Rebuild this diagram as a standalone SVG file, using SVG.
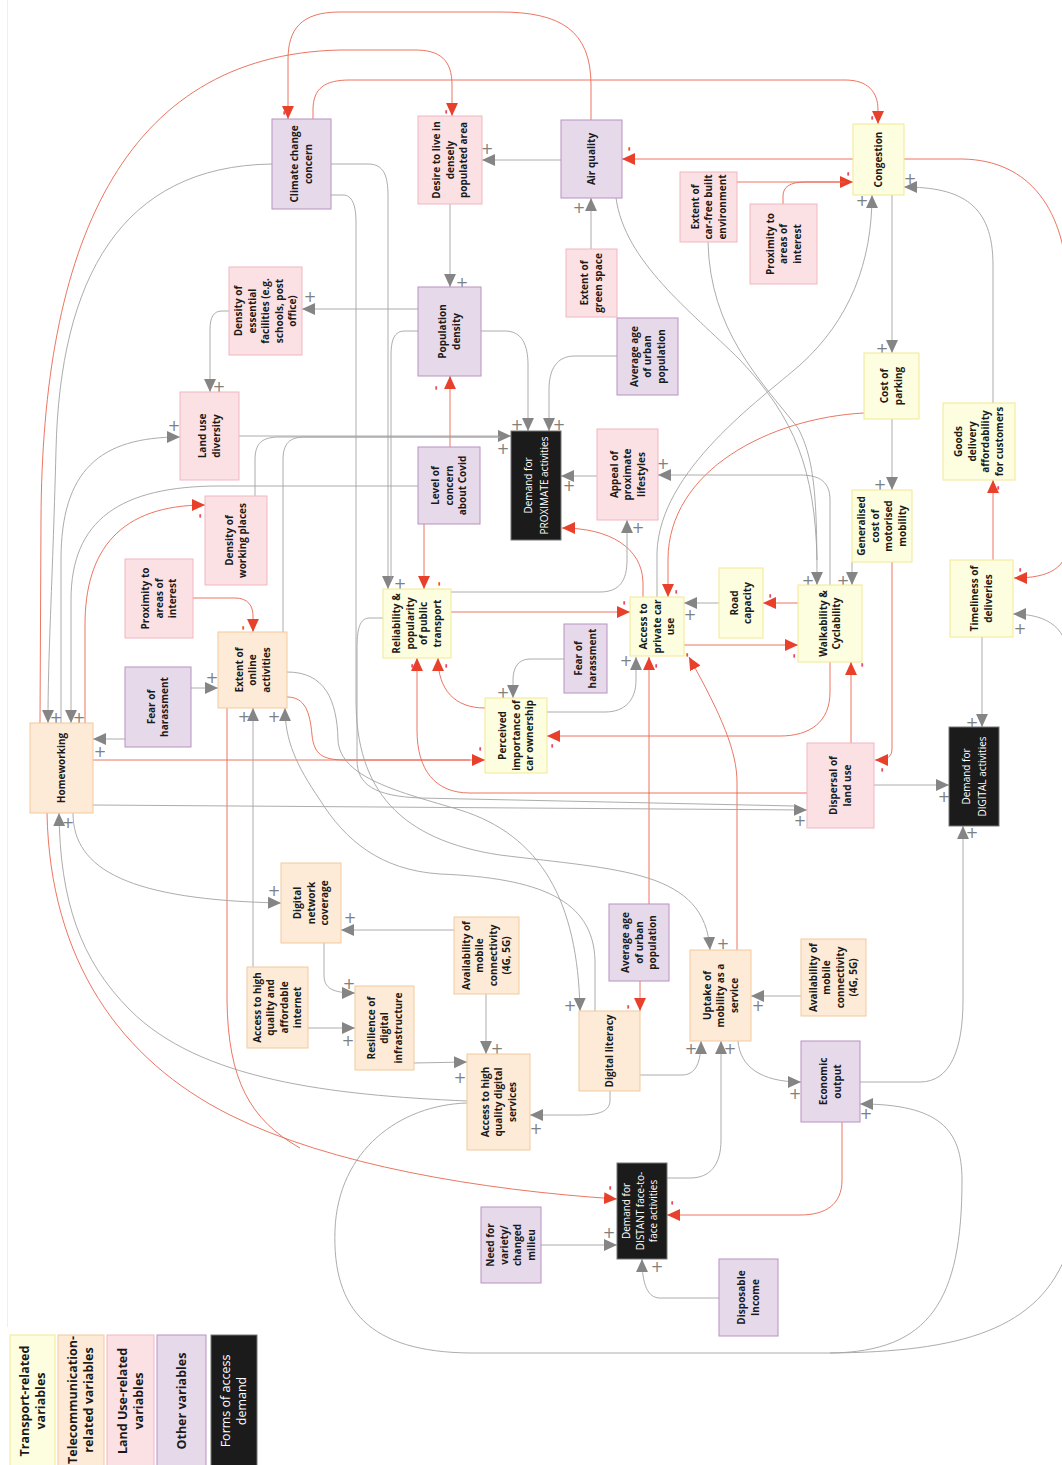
<svg xmlns="http://www.w3.org/2000/svg" width="1062" height="1465" viewBox="0 0 1062 1465">
<style>
.node text{font-family:"Open Sans","Liberation Sans",sans-serif;font-size:10px;font-weight:700;fill:#1a1a1a;text-anchor:middle}
.tr rect{fill:#fdfddf;stroke:#f2ea92;stroke-width:1}
.te rect{fill:#fdebd8;stroke:#f3c99c;stroke-width:1}
.lu rect{fill:#fce1e4;stroke:#f0b7c1;stroke-width:1}
.ot rect{fill:#e6d9ea;stroke:#b892c2;stroke-width:1}
.dm rect{fill:#1b1b1b;stroke:#777;stroke-width:1}
.dm text{fill:#fff;font-weight:400}
.lg text{font-size:12.5px}
.cg{fill:none;stroke:#a3a3a3;stroke-width:0.9}
.cr{fill:none;stroke:#ea6550;stroke-width:0.9}
.pl{font-family:"DejaVu Sans","Liberation Sans",sans-serif;font-size:15px;fill:#808080;text-anchor:middle}
.mi{font-family:"Open Sans","Liberation Sans",sans-serif;font-size:13px;font-weight:700;fill:#e8402a;text-anchor:middle}
</style>
<defs>
<marker id="ag" viewBox="0 0 12 12" refX="12" refY="6" markerWidth="13" markerHeight="13" orient="auto" markerUnits="userSpaceOnUse"><path d="M0,0.5 L12,6 L0,11.5 Z" fill="#858585"/></marker>
<marker id="ar" viewBox="0 0 12 12" refX="12" refY="6" markerWidth="13" markerHeight="13" orient="auto" markerUnits="userSpaceOnUse"><path d="M0,0.5 L12,6 L0,11.5 Z" fill="#e8402a"/></marker>
</defs>
<rect x="0" y="0" width="1062" height="1465" fill="#fff"/>
<line x1="7.5" y1="0" x2="7.5" y2="1327" stroke="#efefef" stroke-width="1"/>

<g id="connectors">
<!-- red -->
<path class="cr" marker-end="url(#ar)" d="M591,120 V85 C591,30 560,12 500,12 H340 C300,12 288,30 288,60 V119"/>
<path class="cr" marker-end="url(#ar)" d="M40,723 L41,520 C42,250 120,55 340,50 H415 C440,50 452,60 452,85 V116"/>
<path class="cr" marker-end="url(#ar)" d="M313,119 V110 C313,88 325,80 350,80 H845 C868,80 878,92 878,110 V124"/>
<path class="cr" marker-end="url(#ar)" d="M853,159 H622"/>
<path class="cr" marker-end="url(#ar)" d="M737,182 H853"/>
<path class="cr" d="M783,204 V196 C783,187 790,182 805,182 H845"/>
<path class="cr" marker-end="url(#ar)" d="M904,159 H962 C1030,160 1066,210 1068,290 V540 C1068,568 1050,578 1014,578"/>
<path class="cr" marker-end="url(#ar)" d="M85,723 V625 C85,550 120,505 205,505"/>
<path class="cr" marker-end="url(#ar)" d="M450,447 V376"/>
<path class="cr" marker-end="url(#ar)" d="M424,524 V589"/>
<path class="cr" marker-end="url(#ar)" d="M193,598 H235 C248,598 253,606 253,616 V632"/>
<path class="cr" marker-end="url(#ar)" d="M93,760 H485"/>
<path class="cr" d="M287,697 C305,697 310,712 312,735 C314,754 322,760 345,760 H470"/>
<path class="cr" marker-end="url(#ar)" d="M451,612 H630"/>
<path class="cr" marker-end="url(#ar)" d="M643,597 V582 C642,548 610,528 562,528"/>
<path class="cr" marker-end="url(#ar)" d="M864,413 C770,418 668,470 668,560 V597"/>
<path class="cr" marker-end="url(#ar)" d="M798,603 H763"/>
<path class="cr" marker-end="url(#ar)" d="M684,645 H798"/>
<path class="cr" marker-end="url(#ar)" d="M892,562 V748 C892,757 888,760 875,760"/>
<path class="cr" marker-end="url(#ar)" d="M851,743 V662"/>
<path class="cr" marker-end="url(#ar)" d="M830,662 V692 C830,722 810,736 780,736 H547"/>
<path class="cr" marker-end="url(#ar)" d="M807,793 H470 C435,793 417,770 417,730 V658"/>
<path class="cr" marker-end="url(#ar)" d="M485,708 C455,708 438,690 438,658"/>
<path class="cr" marker-end="url(#ar)" d="M649,904 V657"/>
<path class="cr" marker-end="url(#ar)" d="M737,950 V782 C737,752 722,716 689,657"/>
<path class="cr" marker-end="url(#ar)" d="M640,981 V1011"/>
<path class="cr" marker-end="url(#ar)" d="M842,1122 V1180 C842,1205 825,1215 800,1215 H667"/>
<path class="cr" marker-end="url(#ar)" d="M993,560 V480"/>
<path class="cr" marker-end="url(#ar)" d="M47,813 C50,960 120,1060 230,1115 C330,1165 480,1190 617,1199"/>
<path class="cr" d="M227,708 V1000 C228,1080 250,1120 300,1148"/>
<!-- gray -->
<path class="cg" marker-end="url(#ag)" d="M272,164 C120,166 60,280 56,450 C52,600 48,650 48,723"/>
<path class="cg" marker-end="url(#ag)" d="M61,723 V560 C61,470 100,437 180,437"/>
<path class="cg" marker-end="url(#ag)" d="M418,486 H220 C120,486 71,520 71,600 V723"/>
<path class="cg" marker-end="url(#ag)" d="M450,204 V287"/>
<path class="cg" marker-end="url(#ag)" d="M561,160 H482"/>
<path class="cg" marker-end="url(#ag)" d="M591,249 V198"/>
<path class="cg" marker-end="url(#ag)" d="M892,195 V353"/>
<path class="cg" marker-end="url(#ag)" d="M993,403 V265 C993,205 962,187 904,187"/>
<path class="cg" marker-end="url(#ag)" d="M418,309 H302"/>
<path class="cg" marker-end="url(#ag)" d="M229,311 H222 C213,311 210,318 210,330 V392"/>
<path class="cg" marker-end="url(#ag)" d="M481,331 H505 C522,331 528,345 528,365 V431"/>
<path class="cg" marker-end="url(#ag)" d="M617,356 H575 C556,356 549,370 549,390 V431"/>
<path class="cg" marker-end="url(#ag)" d="M239,436 H511"/>
<path class="cg" d="M255,496 V460 C255,443 262,437 280,437 H500"/>
<path class="cg" d="M283,632 V460 C283,443 290,437 305,437 H500"/>
<path class="cg" marker-end="url(#ag)" d="M597,476 H561"/>
<path class="cg" marker-end="url(#ag)" d="M331,164 H368 C384,164 388,176 388,196 V589"/>
<path class="cg" d="M418,331 H405 C394,331 391,340 391,356 V580"/>
<path class="cg" marker-end="url(#ag)" d="M191,688 H218"/>
<path class="cg" marker-end="url(#ag)" d="M125,739 H93"/>
<path class="cg" marker-end="url(#ag)" d="M93,805 L807,810"/>
<path class="cg" d="M383,618 H370 C359,618 357,630 357,650 V760 C357,785 375,796 420,798 L795,806"/>
<path class="cg" marker-end="url(#ag)" d="M451,592 H600 C620,592 627,580 627,560 V520"/>
<path class="cg" marker-end="url(#ag)" d="M657,597 V552 C660,470 760,400 800,365 C850,320 872,262 872,195"/>
<path class="cg" marker-end="url(#ag)" d="M719,603 H684"/>
<path class="cg" marker-end="url(#ag)" d="M852,562 V585"/>
<path class="cg" marker-end="url(#ag)" d="M708,242 C710,330 760,380 798,428 C815,460 817,500 817,585"/>
<path class="cg" d="M616,198 C625,262 690,310 740,360 C795,418 815,470 817,560"/>
<path class="cg" marker-end="url(#ag)" d="M830,585 V500 C830,482 820,475 800,475 H658"/>
<path class="cg" marker-end="url(#ag)" d="M892,419 V490"/>
<path class="cg" marker-end="url(#ag)" d="M547,712 H605 C625,712 636,700 636,680 V657"/>
<path class="cg" marker-end="url(#ag)" d="M564,659 H530 C518,659 513,668 513,680 V698"/>
<path class="cg" marker-end="url(#ag)" d="M331,195 H343 C352,195 356,205 356,222 V700 C356,790 400,840 500,855 C620,870 705,870 710,950"/>
<path class="cg" marker-end="url(#ag)" d="M287,672 C325,672 337,700 338,740 C340,778 400,792 460,810 C540,835 578,900 580,1011"/>
<path class="cg" marker-end="url(#ag)" d="M595,1011 V960 C593,900 540,878 440,874 C380,870 345,840 320,800 C296,765 285,740 285,708"/>
<path class="cg" marker-end="url(#ag)" d="M454,930 H341"/>
<path class="cg" marker-end="url(#ag)" d="M486,994 V1054"/>
<path class="cg" marker-end="url(#ag)" d="M324,943 V975 C324,988 332,993 355,993"/>
<path class="cg" marker-end="url(#ag)" d="M308,1028 H355"/>
<path class="cg" marker-end="url(#ag)" d="M253,967 V708"/>
<path class="cg" marker-end="url(#ag)" d="M414,1063 L467,1062"/>
<path class="cg" marker-end="url(#ag)" d="M610,1091 V1100 C610,1111 600,1115 580,1115 H530"/>
<path class="cg" marker-end="url(#ag)" d="M640,1075 H682 C696,1075 701,1062 701,1041"/>
<path class="cg" marker-end="url(#ag)" d="M801,996 H751"/>
<path class="cg" marker-end="url(#ag)" d="M738,1041 C740,1066 760,1082 801,1082"/>
<path class="cg" marker-end="url(#ag)" d="M667,1178 H690 C710,1178 721,1165 721,1140 V1041"/>
<path class="cg" marker-end="url(#ag)" d="M860,1082 H920 C950,1082 963,1050 963,1000 V826"/>
<path class="cg" marker-end="url(#ag)" d="M874,785 H949"/>
<path class="cg" marker-end="url(#ag)" d="M982,637 V727"/>
<path class="cg" marker-end="url(#ag)" d="M541,1245 H617"/>
<path class="cg" marker-end="url(#ag)" d="M719,1298 H660 C648,1298 642,1285 642,1259"/>
<path class="cg" marker-end="url(#ag)" d="M467,1101 C330,1095 200,1080 130,1010 C80,960 60,900 59,813"/>
<path class="cg" marker-end="url(#ag)" d="M73,813 C73,870 130,900 281,903"/>
<path class="cg" marker-end="url(#ag)" d="M467,1103 C400,1105 338,1150 335,1230 C332,1310 370,1352 470,1353 H830 C930,1352 962,1300 962,1180 C962,1130 940,1104 860,1104"/>
<path class="cg" marker-end="url(#ag)" d="M830,1353 C960,1352 1040,1330 1068,1250 V660 C1068,630 1050,614 1013,614"/>
<!-- labels -->
<g id="signs">
<text class="mi" transform="translate(284,113) rotate(-90)" y="4">-</text>
<text class="mi" transform="translate(446,112) rotate(-90)" y="4">-</text>
<text class="mi" transform="translate(872,118) rotate(-90)" y="4">-</text>
<text class="mi" transform="translate(629,149) rotate(-90)" y="4">-</text>
<text class="mi" transform="translate(848,174) rotate(-90)" y="4">-</text>
<text class="mi" transform="translate(1020,570) rotate(-90)" y="4">-</text>
<text class="mi" transform="translate(200,516) rotate(-90)" y="4">-</text>
<text class="mi" transform="translate(436,388) rotate(-90)" y="4">-</text>
<text class="mi" transform="translate(439,584) rotate(-90)" y="4">-</text>
<text class="mi" transform="translate(243,628) rotate(-90)" y="4">-</text>
<text class="mi" transform="translate(480,749) rotate(-90)" y="4">-</text>
<text class="mi" transform="translate(624,603) rotate(-90)" y="4">-</text>
<text class="mi" transform="translate(676,592) rotate(-90)" y="4">-</text>
<text class="mi" transform="translate(770,596) rotate(-90)" y="4">-</text>
<text class="mi" transform="translate(794,656) rotate(-90)" y="4">-</text>
<text class="mi" transform="translate(882,770) rotate(-90)" y="4">-</text>
<text class="mi" transform="translate(862,665) rotate(-90)" y="4">-</text>
<text class="mi" transform="translate(552,746) rotate(-90)" y="4">-</text>
<text class="mi" transform="translate(412,666) rotate(-90)" y="4">-</text>
<text class="mi" transform="translate(446,666) rotate(-90)" y="4">-</text>
<text class="mi" transform="translate(656,666) rotate(-90)" y="4">-</text>
<text class="mi" transform="translate(687,655) rotate(-90)" y="4">-</text>
<text class="mi" transform="translate(628,1007) rotate(-90)" y="4">-</text>
<text class="mi" transform="translate(672,1203) rotate(-90)" y="4">-</text>
<text class="mi" transform="translate(998,488) rotate(-90)" y="4">-</text>
<text class="mi" transform="translate(610,1188) rotate(-90)" y="4">-</text>
<text class="pl" x="487" y="154">+</text>
<text class="pl" x="462" y="288">+</text>
<text class="pl" x="579" y="213">+</text>
<text class="pl" x="882" y="354">+</text>
<text class="pl" x="910" y="184">+</text>
<text class="pl" x="862" y="206">+</text>
<text class="pl" x="310" y="302">+</text>
<text class="pl" x="219" y="392">+</text>
<text class="pl" x="517" y="430">+</text>
<text class="pl" x="559" y="430">+</text>
<text class="pl" x="503" y="454">+</text>
<text class="pl" x="569" y="491">+</text>
<text class="pl" x="174" y="431">+</text>
<text class="pl" x="400" y="589">+</text>
<text class="pl" x="56" y="723">+</text>
<text class="pl" x="79" y="723">+</text>
<text class="pl" x="212" y="683">+</text>
<text class="pl" x="100" y="757">+</text>
<text class="pl" x="800" y="826">+</text>
<text class="pl" x="638" y="533">+</text>
<text class="pl" x="663" y="469">+</text>
<text class="pl" x="690" y="620">+</text>
<text class="pl" x="843" y="586">+</text>
<text class="pl" x="808" y="586">+</text>
<text class="pl" x="880" y="490">+</text>
<text class="pl" x="626" y="666">+</text>
<text class="pl" x="503" y="698">+</text>
<text class="pl" x="244" y="722">+</text>
<text class="pl" x="274" y="722">+</text>
<text class="pl" x="350" y="923">+</text>
<text class="pl" x="497" y="1054">+</text>
<text class="pl" x="349" y="989">+</text>
<text class="pl" x="348" y="1046">+</text>
<text class="pl" x="460" y="1083">+</text>
<text class="pl" x="536" y="1134">+</text>
<text class="pl" x="691" y="1054">+</text>
<text class="pl" x="730" y="1054">+</text>
<text class="pl" x="758" y="1011">+</text>
<text class="pl" x="795" y="1099">+</text>
<text class="pl" x="723" y="949">+</text>
<text class="pl" x="570" y="1011">+</text>
<text class="pl" x="972" y="838">+</text>
<text class="pl" x="944" y="802">+</text>
<text class="pl" x="972" y="728">+</text>
<text class="pl" x="1020" y="634">+</text>
<text class="pl" x="609" y="1238">+</text>
<text class="pl" x="657" y="1272">+</text>
<text class="pl" x="68" y="828">+</text>
<text class="pl" x="274" y="896">+</text>
<text class="pl" x="866" y="1119">+</text>
</g>
</g>

<g id="n-climate" class="node ot"><rect x="272" y="119" width="59" height="90"/><text transform="translate(301.5,164) rotate(-90)"><tspan x="0" y="-3.25">Climate change</tspan><tspan x="0" y="10.25">concern</tspan></text></g>
<g id="n-desire" class="node lu"><rect x="418" y="116" width="64" height="88"/><text transform="translate(450,160) rotate(-90)"><tspan x="0" y="-10">Desire to live in</tspan><tspan x="0" y="3.5">densely</tspan><tspan x="0" y="17">populated area</tspan></text></g>
<g id="n-airquality" class="node ot"><rect x="561" y="120" width="61" height="78"/><text transform="translate(591.5,159) rotate(-90)"><tspan x="0" y="3.5">Air quality</tspan></text></g>
<g id="n-congestion" class="node tr"><rect x="853" y="124" width="51" height="71"/><text transform="translate(878.5,159.5) rotate(-90)"><tspan x="0" y="3.5">Congestion</tspan></text></g>
<g id="n-carfree" class="node lu"><rect x="680" y="172" width="57" height="70"/><text transform="translate(708.5,207) rotate(-90)"><tspan x="0" y="-10">Extent of</tspan><tspan x="0" y="3.5">car-free built</tspan><tspan x="0" y="17">environment</tspan></text></g>
<g id="n-proximity1" class="node lu"><rect x="750" y="204" width="67" height="80"/><text transform="translate(783.5,244) rotate(-90)"><tspan x="0" y="-10">Proximity to</tspan><tspan x="0" y="3.5">areas of</tspan><tspan x="0" y="17">interest</tspan></text></g>
<g id="n-green" class="node lu"><rect x="566" y="249" width="51" height="68"/><text transform="translate(591.5,283) rotate(-90)"><tspan x="0" y="-3.25">Extent of</tspan><tspan x="0" y="10.25">green space</tspan></text></g>
<g id="n-popdensity" class="node ot"><rect x="418" y="287" width="63" height="89"/><text transform="translate(449.5,331.5) rotate(-90)"><tspan x="0" y="-3.25">Population</tspan><tspan x="0" y="10.25">density</tspan></text></g>
<g id="n-essential" class="node lu"><rect x="229" y="267" width="73" height="88"/><text transform="translate(265.5,311) rotate(-90)"><tspan x="0" y="-23.5">Density of</tspan><tspan x="0" y="-10">essential</tspan><tspan x="0" y="3.5">facilities (e.g.</tspan><tspan x="0" y="17">schools, post</tspan><tspan x="0" y="30.5">office)</tspan></text></g>
<g id="n-age1" class="node ot"><rect x="617" y="318" width="61" height="77"/><text transform="translate(647.5,356.5) rotate(-90)"><tspan x="0" y="-10">Average age</tspan><tspan x="0" y="3.5">of urban</tspan><tspan x="0" y="17">population</tspan></text></g>
<g id="n-landusediv" class="node lu"><rect x="180" y="392" width="59" height="88"/><text transform="translate(209.5,436) rotate(-90)"><tspan x="0" y="-3.25">Land use</tspan><tspan x="0" y="10.25">diversity</tspan></text></g>
<g id="n-covid" class="node ot"><rect x="418" y="447" width="62" height="77"/><text transform="translate(449,485.5) rotate(-90)"><tspan x="0" y="-10">Level of</tspan><tspan x="0" y="3.5">concern</tspan><tspan x="0" y="17">about Covid</tspan></text></g>
<g id="n-proximate" class="node dm"><rect x="511" y="431" width="50" height="109"/><text transform="translate(536,485.5) rotate(-90)"><tspan x="0" y="-4.5">Demand for</tspan><tspan x="0" y="11.5">PROXIMATE activities</tspan></text></g>
<g id="n-appeal" class="node lu"><rect x="597" y="429" width="61" height="91"/><text transform="translate(627.5,474.5) rotate(-90)"><tspan x="0" y="-10">Appeal of</tspan><tspan x="0" y="3.5">proximate</tspan><tspan x="0" y="17">lifestyles</tspan></text></g>
<g id="n-parking" class="node tr"><rect x="864" y="353" width="55" height="66"/><text transform="translate(891.5,386) rotate(-90)"><tspan x="0" y="-3.25">Cost of</tspan><tspan x="0" y="10.25">parking</tspan></text></g>
<g id="n-goods" class="node tr"><rect x="943" y="403" width="72" height="77"/><text transform="translate(979,441.5) rotate(-90)"><tspan x="0" y="-16.75">Goods</tspan><tspan x="0" y="-3.25">delivery</tspan><tspan x="0" y="10.25">affordability</tspan><tspan x="0" y="23.75">for customers</tspan></text></g>
<g id="n-gencost" class="node tr"><rect x="852" y="490" width="60" height="72"/><text transform="translate(882,526) rotate(-90)"><tspan x="0" y="-16.75">Generalised</tspan><tspan x="0" y="-3.25">cost of</tspan><tspan x="0" y="10.25">motorised</tspan><tspan x="0" y="23.75">mobility</tspan></text></g>
<g id="n-working" class="node lu"><rect x="205" y="496" width="62" height="89"/><text transform="translate(236,540.5) rotate(-90)"><tspan x="0" y="-3.25">Density of</tspan><tspan x="0" y="10.25">working places</tspan></text></g>
<g id="n-proximity2" class="node lu"><rect x="125" y="559" width="68" height="79"/><text transform="translate(159,598.5) rotate(-90)"><tspan x="0" y="-10">Proximity to</tspan><tspan x="0" y="3.5">areas of</tspan><tspan x="0" y="17">interest</tspan></text></g>
<g id="n-publictransport" class="node tr"><rect x="383" y="589" width="68" height="69"/><text transform="translate(417,623.5) rotate(-90)"><tspan x="0" y="-16.75">Reliability &amp;</tspan><tspan x="0" y="-3.25">popularity</tspan><tspan x="0" y="10.25">of public</tspan><tspan x="0" y="23.75">transport</tspan></text></g>
<g id="n-car" class="node tr"><rect x="630" y="597" width="54" height="59"/><text transform="translate(657,626.5) rotate(-90)"><tspan x="0" y="-10">Access to</tspan><tspan x="0" y="3.5">private car</tspan><tspan x="0" y="17">use</tspan></text></g>
<g id="n-road" class="node tr"><rect x="719" y="568" width="44" height="70"/><text transform="translate(741,603) rotate(-90)"><tspan x="0" y="-3.25">Road</tspan><tspan x="0" y="10.25">capacity</tspan></text></g>
<g id="n-walk" class="node tr"><rect x="798" y="585" width="64" height="77"/><text transform="translate(830,623.5) rotate(-90)"><tspan x="0" y="-3.25">Walkability &amp;</tspan><tspan x="0" y="10.25">Cyclability</tspan></text></g>
<g id="n-timeliness" class="node tr"><rect x="950" y="560" width="63" height="77"/><text transform="translate(981.5,598.5) rotate(-90)"><tspan x="0" y="-3.25">Timeliness of</tspan><tspan x="0" y="10.25">deliveries</tspan></text></g>
<g id="n-fear2" class="node ot"><rect x="564" y="624" width="43" height="69"/><text transform="translate(585.5,658.5) rotate(-90)"><tspan x="0" y="-3.25">Fear of</tspan><tspan x="0" y="10.25">harassment</tspan></text></g>
<g id="n-online" class="node te"><rect x="218" y="632" width="69" height="76"/><text transform="translate(252.5,670) rotate(-90)"><tspan x="0" y="-10">Extent of</tspan><tspan x="0" y="3.5">online</tspan><tspan x="0" y="17">activities</tspan></text></g>
<g id="n-fear1" class="node ot"><rect x="125" y="667" width="66" height="80"/><text transform="translate(158,707) rotate(-90)"><tspan x="0" y="-3.25">Fear of</tspan><tspan x="0" y="10.25">harassment</tspan></text></g>
<g id="n-perceived" class="node tr"><rect x="485" y="698" width="62" height="75"/><text transform="translate(516,735.5) rotate(-90)"><tspan x="0" y="-10">Perceived</tspan><tspan x="0" y="3.5">importance of</tspan><tspan x="0" y="17">car ownership</tspan></text></g>
<g id="n-homeworking" class="node te"><rect x="30" y="723" width="63" height="90"/><text transform="translate(61.5,768) rotate(-90)"><tspan x="0" y="3.5">Homeworking</tspan></text></g>
<g id="n-dispersal" class="node lu"><rect x="807" y="743" width="67" height="85"/><text transform="translate(840.5,785.5) rotate(-90)"><tspan x="0" y="-3.25">Dispersal of</tspan><tspan x="0" y="10.25">land use</tspan></text></g>
<g id="n-digital" class="node dm"><rect x="949" y="727" width="50" height="99"/><text transform="translate(974,776.5) rotate(-90)"><tspan x="0" y="-4.5">Demand for</tspan><tspan x="0" y="11.5">DIGITAL activities</tspan></text></g>
<g id="n-network" class="node te"><rect x="281" y="863" width="60" height="80"/><text transform="translate(311,903) rotate(-90)"><tspan x="0" y="-10">Digital</tspan><tspan x="0" y="3.5">network</tspan><tspan x="0" y="17">coverage</tspan></text></g>
<g id="n-mobile1" class="node te"><rect x="454" y="917" width="65" height="77"/><text transform="translate(486.5,955.5) rotate(-90)"><tspan x="0" y="-16.75">Availability of</tspan><tspan x="0" y="-3.25">mobile</tspan><tspan x="0" y="10.25">connectivity</tspan><tspan x="0" y="23.75">(4G, 5G)</tspan></text></g>
<g id="n-internet" class="node te"><rect x="247" y="967" width="61" height="81"/><text transform="translate(277.5,1007.5) rotate(-90)"><tspan x="0" y="-16.75">Access to high</tspan><tspan x="0" y="-3.25">quality and</tspan><tspan x="0" y="10.25">affordable</tspan><tspan x="0" y="23.75">internet</tspan></text></g>
<g id="n-resilience" class="node te"><rect x="355" y="986" width="59" height="84"/><text transform="translate(384.5,1028) rotate(-90)"><tspan x="0" y="-10">Resilience of</tspan><tspan x="0" y="3.5">digital</tspan><tspan x="0" y="17">infrastructure</tspan></text></g>
<g id="n-age2" class="node ot"><rect x="609" y="904" width="60" height="77"/><text transform="translate(639,942.5) rotate(-90)"><tspan x="0" y="-10">Average age</tspan><tspan x="0" y="3.5">of urban</tspan><tspan x="0" y="17">population</tspan></text></g>
<g id="n-maas" class="node te"><rect x="690" y="950" width="61" height="91"/><text transform="translate(720.5,995.5) rotate(-90)"><tspan x="0" y="-10">Uptake of</tspan><tspan x="0" y="3.5">mobility as a</tspan><tspan x="0" y="17">service</tspan></text></g>
<g id="n-mobile2" class="node te"><rect x="801" y="939" width="65" height="77"/><text transform="translate(833.5,977.5) rotate(-90)"><tspan x="0" y="-16.75">Availability of</tspan><tspan x="0" y="-3.25">mobile</tspan><tspan x="0" y="10.25">connectivity</tspan><tspan x="0" y="23.75">(4G, 5G)</tspan></text></g>
<g id="n-literacy" class="node te"><rect x="579" y="1011" width="61" height="80"/><text transform="translate(609.5,1051) rotate(-90)"><tspan x="0" y="3.5">Digital literacy</tspan></text></g>
<g id="n-services" class="node te"><rect x="467" y="1054" width="63" height="96"/><text transform="translate(498.5,1102) rotate(-90)"><tspan x="0" y="-10">Access to high</tspan><tspan x="0" y="3.5">quality digital</tspan><tspan x="0" y="17">services</tspan></text></g>
<g id="n-economic" class="node ot"><rect x="801" y="1041" width="59" height="81"/><text transform="translate(830.5,1081.5) rotate(-90)"><tspan x="0" y="-3.25">Economic</tspan><tspan x="0" y="10.25">output</tspan></text></g>
<g id="n-distant" class="node dm"><rect x="617" y="1163" width="50" height="96"/><text transform="translate(642,1211) rotate(-90)"><tspan x="0" y="-12">Demand for</tspan><tspan x="0" y="1.5">DISTANT face-to-</tspan><tspan x="0" y="15">face activities</tspan></text></g>
<g id="n-variety" class="node ot"><rect x="481" y="1207" width="60" height="76"/><text transform="translate(511,1245) rotate(-90)"><tspan x="0" y="-16.75">Need for</tspan><tspan x="0" y="-3.25">variety/</tspan><tspan x="0" y="10.25">changed</tspan><tspan x="0" y="23.75">milieu</tspan></text></g>
<g id="n-income" class="node ot"><rect x="719" y="1259" width="59" height="77"/><text transform="translate(748.5,1297.5) rotate(-90)"><tspan x="0" y="-3.25">Disposable</tspan><tspan x="0" y="10.25">Income</tspan></text></g>

<g id="legend">
<g id="lg-transport" class="node tr lg"><rect x="10" y="1335" width="45" height="140"/><text transform="translate(32.5,1401) rotate(-90)"><tspan x="0" y="-3.6">Transport-related</tspan><tspan x="0" y="12.4">variables</tspan></text></g>
<g id="lg-telecom" class="node te lg"><rect x="58" y="1335" width="46" height="140"/><text transform="translate(81,1400) rotate(-90)"><tspan x="0" y="-3.6">Telecommunication-</tspan><tspan x="0" y="12.4">related variables</tspan></text></g>
<g id="lg-landuse" class="node lu lg"><rect x="107" y="1335" width="47" height="140"/><text transform="translate(130.5,1401) rotate(-90)"><tspan x="0" y="-3.6">Land Use-related</tspan><tspan x="0" y="12.4">variables</tspan></text></g>
<g id="lg-other" class="node ot lg"><rect x="157" y="1335" width="49" height="140"/><text transform="translate(181.5,1401) rotate(-90)"><tspan x="0" y="4.4">Other variables</tspan></text></g>
<g id="lg-forms" class="node dm lg"><rect x="211" y="1335" width="46" height="140"/><text transform="translate(234,1401) rotate(-90)"><tspan x="0" y="-3.6">Forms of access</tspan><tspan x="0" y="12.4">demand</tspan></text></g>
</g>
</svg>
